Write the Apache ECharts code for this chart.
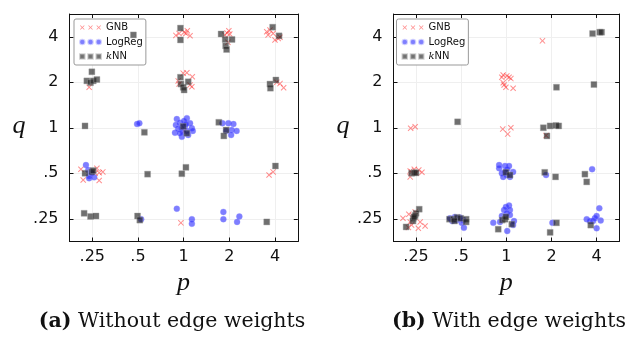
<!DOCTYPE html>
<html><head><meta charset="utf-8">
<script src="https://cdn.jsdelivr.net/npm/echarts@6/dist/echarts.min.js"></script>
<style>html,body{margin:0;padding:0;background:#fff}#c{width:632px;height:337px}</style>
</head><body><div id="c"></div>
<script>
// Tick labels for both p (x) and q (y); data positions are in tick-index units with jitter
const tickLabels = ['.25', '.5', '1', '2', '4'];
const tickPos = [0, 1, 2, 3, 4];
const seriesNames = ['GNB', 'LogReg', 'kNN'];

// (a) Without edge weights
const gnbA = [
  [1.83,4.03],[1.90,4.07],[2.01,4.10],[2.08,4.13],[2.14,4.02],[2.05,4.07],
  [2.95,4.08],[2.90,4.04],[3.01,4.06],[2.99,4.13],[2.97,3.88],
  [3.82,4.11],[3.85,4.04],[3.96,4.07],[4.00,3.93],[4.07,3.96],[4.11,3.99],[3.89,4.15],
  [-0.07,2.89],
  [1.99,3.20],[2.07,3.21],[2.19,3.12],[1.88,3.03],[2.14,2.94],[2.18,2.90],[1.90,2.96],
  [4.04,3.00],[4.11,2.97],[4.19,2.88],
  [2.01,1.93],
  [-0.25,1.09],[-0.20,0.85],[0.10,1.11],[0.15,1.01],[0.23,1.03],[0.15,0.84],[0.06,1.00],
  [3.87,0.96],[3.96,1.03],
  [1.94,-0.09]
];
const logregA = [
  [0.98,2.08],[1.03,2.10],
  [1.85,2.19],[2.07,2.21],[1.92,2.11],[2.18,1.99],[1.81,1.89],[1.96,1.80],[2.10,1.84],[2.20,1.93],
  [1.88,1.97],[2.03,2.04],[1.98,1.91],[1.83,2.06],[2.14,2.10],[2.01,2.15],[1.92,1.88],[2.07,1.93],
  [1.95,2.00],[2.05,2.08],
  [2.85,2.10],[2.98,2.10],[3.09,2.08],[3.05,1.95],[3.16,1.93],[3.04,1.84],[2.93,1.93],
  [-0.14,1.18],[-0.09,1.07],[-0.07,0.94],[-0.07,0.89],[0.04,0.91],[-0.01,1.00],
  [1.07,-0.01],
  [1.85,0.22],[2.18,-0.01],[2.18,-0.11],
  [2.87,0.15],[2.87,-0.01],[3.17,-0.07],[3.22,0.05]
];
const knnA = [
  [0.90,4.04],
  [1.93,4.19],[1.93,3.93],
  [2.82,4.06],[2.91,3.94],[3.06,3.94],[2.92,3.80],[2.94,3.72],
  [3.95,4.21],[4.09,4.02],
  [-0.01,3.23],[-0.12,3.03],[-0.04,2.99],[0.02,3.03],[0.10,3.06],
  [1.93,3.11],[2.10,3.01],[1.94,2.96],[1.99,2.89],[2.01,2.83],
  [4.02,3.05],[3.89,2.96],[3.90,2.87],
  [-0.16,2.04],
  [1.14,1.90],
  [1.99,2.03],[2.07,1.88],
  [2.77,2.12],[2.93,1.95],[2.88,1.82],
  [-0.16,1.00],[-0.01,1.03],[0.02,1.06],
  [1.21,0.98],
  [1.96,0.99],[2.05,1.13],
  [4.01,1.16],
  [-0.18,0.12],[-0.04,0.05],[0.08,0.06],
  [0.99,0.06],[1.04,-0.03],
  [3.82,-0.07]
];

// (b) With edge weights
const gnbB = [
  [-0.12,1.99],[-0.02,2.02],
  [1.92,1.97],[2.10,2.00],[2.03,1.86],
  [2.88,1.83],
  [1.90,3.11],[1.93,3.16],[2.01,3.14],[2.06,3.11],[2.10,3.08],[1.93,2.99],[1.95,2.94],[1.99,2.89],[2.15,2.87],
  [2.80,3.91],
  [-0.13,0.92],[-0.10,1.03],[-0.04,1.09],[0.00,1.00],[0.13,1.02],[-0.13,1.05],[0.06,1.07],
  [-0.29,0.01],[-0.13,-0.07],[-0.02,0.15],[0.05,-0.21],[0.20,-0.16],[-0.17,-0.19],[-0.10,-0.14],
  [-0.07,0.06],[0.09,-0.07],[-0.16,0.10]
];
const logregB = [
  [1.84,1.18],[1.97,1.16],[2.06,1.16],[1.84,1.11],[1.97,1.03],[2.15,1.03],[2.01,0.96],[2.08,0.92],
  [1.90,1.00],[1.93,0.92],[2.02,1.09],
  [2.88,0.96],
  [3.90,1.09],
  [0.75,0.01],[0.86,0.04],[0.97,0.03],[1.05,-0.03],[1.01,-0.09],[0.90,-0.03],[1.06,-0.20],[0.80,-0.05],
  [1.71,-0.09],[1.95,0.19],[1.99,0.26],[2.06,0.29],[2.08,0.19],[2.01,0.12],[2.08,0.08],[2.17,-0.05],
  [2.15,-0.14],[2.02,-0.27],[1.90,0.06],[1.86,-0.07],
  [3.02,-0.09],
  [3.78,-0.01],[3.85,-0.05],[3.92,-0.05],[3.96,0.01],[4.00,0.06],[4.06,0.23],[4.09,-0.04],[4.00,-0.21]
];
const knnB = [
  [3.91,4.07],[4.07,4.10],[4.11,4.10],
  [3.11,2.89],[3.94,2.95],
  [0.92,2.13],
  [2.82,2.00],[2.97,2.04],[3.10,2.05],[3.16,2.04],[2.90,1.82],
  [-0.10,1.00],[-0.04,1.01],[0.00,1.01],
  [1.99,1.02],[2.08,0.96],
  [2.85,1.02],[3.09,0.92],
  [3.74,0.98],[3.78,0.81],
  [0.07,0.21],[0.00,0.12],[-0.02,0.07],[-0.06,0.01],[-0.07,-0.05],[-0.22,-0.18],[-0.04,0.04],
  [0.74,-0.01],[0.83,-0.01],[0.91,0.03],[0.99,0.01],[1.11,-0.01],[1.11,-0.07],[0.85,-0.05],
  [1.82,-0.23],[1.91,-0.03],[1.97,-0.01],[2.12,-0.12],[1.99,0.04],
  [2.97,-0.30],[3.11,-0.09],
  [3.87,-0.14]
];

const crossPath = 'path://M0,1.2L1.2,0L5,3.8L8.8,0L10,1.2L6.2,5L10,8.8L8.8,10L5,6.2L1.2,10L0,8.8L3.8,5Z';
function tri(shape) {
  let d = '';
  for (const off of [0, 18, 36]) {
    if (shape === 'x') {
      d += `M${off},1.2L${off+1.2},0L${off+5},3.8L${off+8.8},0L${off+10},1.2L${off+6.2},5L${off+10},8.8L${off+8.8},10L${off+5},6.2L${off+1.2},10L${off},8.8L${off+3.8},5Z`;
    } else if (shape === 'o') {
      d += `M${off},5A5,5,0,1,1,${off+10},5A5,5,0,1,1,${off},5Z`;
    } else {
      d += `M${off},0L${off+10},0L${off+10},10L${off},10Z`;
    }
  }
  return 'path://' + d;
}

const colors = {GNB: 'rgba(255,40,40,0.65)', LogReg: 'rgba(40,40,255,0.75)', kNN: 'rgba(30,30,30,0.8)'};

const grids = [
  {left: 69.5, top: 14, width: 228.3, height: 227.5},
  {left: 393.5, top: 14, width: 225.7, height: 227.5}
];

function mainAxis(gi, pos) {
  return {
    type: 'value', gridIndex: gi, position: pos, min: -0.5, max: 4.5,
    axisLine: {show: true, onZero: false, lineStyle: {color: '#111', width: 1}},
    axisTick: {show: true, inside: true, length: 4, customValues: tickPos, lineStyle: {color: '#111'}},
    axisLabel: {show: true, customValues: tickPos, formatter: v => tickLabels[Math.round(v)],
      fontSize: 16, color: '#111', fontFamily: 'DejaVu Sans', margin: pos === 'bottom' ? 7 : 11},
    splitLine: {show: true, lineStyle: {color: '#efefef', width: 1}}
  };
}
function mirrorAxis(gi, pos) {
  return {
    type: 'value', gridIndex: gi, position: pos, min: -0.5, max: 4.5,
    axisLine: {show: true, onZero: false, lineStyle: {color: '#111', width: 1}},
    axisTick: {show: true, inside: true, length: 4, customValues: tickPos, lineStyle: {color: '#111'}},
    axisLabel: {show: false},
    splitLine: {show: false}
  };
}

const symbols = {GNB: crossPath, LogReg: 'circle', kNN: 'rect'};
const sizes = {GNB: 6, LogReg: 6, kNN: 6};
const dataSets = [[gnbA, logregA, knnA], [gnbB, logregB, knnB]];
const series = [];
dataSets.forEach((sets, gi) => {
  sets.forEach((d, k) => {
    const nm = seriesNames[k];
    series.push({
      type: 'scatter', name: nm, xAxisIndex: gi * 2, yAxisIndex: gi * 2,
      data: d, symbol: symbols[nm], symbolSize: sizes[nm],
      itemStyle: {color: colors[nm], borderColor: nm === 'kNN' ? 'rgba(160,160,160,0.6)' : (nm === 'LogReg' ? 'rgba(140,140,255,0.5)' : 'transparent'), borderWidth: nm === 'GNB' ? 0 : 0.8},
      emphasis: {disabled: true}, animation: false, z: 2 + k
    });
  });
});

const legendIcons = {GNB: tri('x'), LogReg: tri('o'), kNN: tri('s')};
function mkLegend(left) {
  return {
    left: left, top: 19, orient: 'vertical', selectedMode: false,
    backgroundColor: '#fff', borderColor: '#999', borderWidth: 1, borderRadius: 2,
    padding: [3, 3, 3, 5], itemGap: 3.5, itemWidth: 21, itemHeight: 4.7,
    data: seriesNames.map(n => ({name: n, icon: legendIcons[n]})),
    textStyle: {fontSize: 10, fontFamily: 'DejaVu Sans', color: '#111', lineHeight: 11,
      rich: {i: {fontStyle: 'italic', fontSize: 10, fontFamily: 'DejaVu Serif', color: '#111'}, n: {fontSize: 10, fontFamily: 'DejaVu Sans', color: '#111'}}},
    formatter: n => n === 'kNN' ? '{i|k}{n|NN}' : n
  };
}

const serif = 'DejaVu Serif';
const capStyle = (txt, x) => ({type: 'text', x: x, y: 322, style: {text: txt, fontSize: 20.5, fontFamily: serif, fill: '#111', align: 'center', verticalAlign: 'middle',
  rich: {b: {fontWeight: 'bold', fontSize: 20.5, fontFamily: serif, fill: '#111'}}}});
const axName = (txt, x, y) => ({type: 'text', x: x, y: y, style: {text: txt, fontSize: 26, fontStyle: 'italic', fontFamily: 'Liberation Serif', fill: '#111', align: 'center', verticalAlign: 'middle'}});
const option = {
  animation: false,
  grid: grids,
  xAxis: [mainAxis(0, 'bottom'), mirrorAxis(0, 'top'), mainAxis(1, 'bottom'), mirrorAxis(1, 'top')],
  yAxis: [mainAxis(0, 'left'), mirrorAxis(0, 'right'), mainAxis(1, 'left'), mirrorAxis(1, 'right')],
  legend: [mkLegend(74), mkLegend(396.5)],
  series: series,
  graphic: [
    axName('p', 183.6, 283), axName('p', 506.3, 283),
    axName('q', 19, 126), axName('q', 343, 126),
    capStyle('{b|(a)} Without edge weights', 172),
    capStyle('{b|(b)} With edge weights', 509)
  ]
};
const chart = echarts.init(document.getElementById('c'), null, {renderer: 'canvas'});
chart.setOption(option);
</script></body></html>
